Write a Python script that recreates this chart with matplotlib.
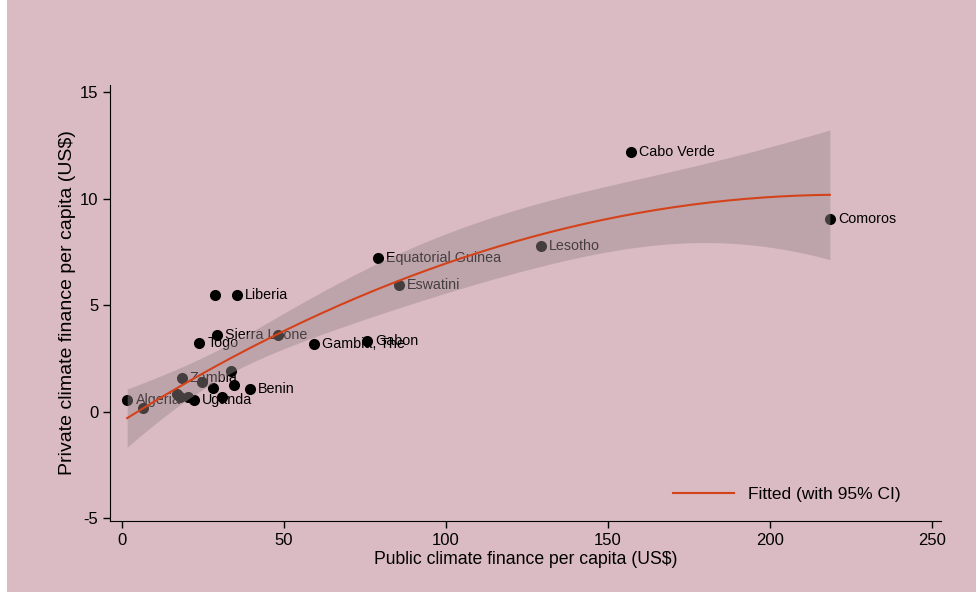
import matplotlib.pyplot as plt
import numpy as np
from matplotlib.patches import Rectangle

plt.rcParams['font.family'] = ['Liberation Sans', 'DejaVu Sans']
plt.rcParams['axes.unicode_minus'] = False

# Per-capita climate finance by country (US$); empty name = unlabelled point
countries = ["Algeria", "", "Zambia", "", "", "", "", "Benin", "", "", "",
             "Uganda", "", "", "Liberia", "Sierra Leone", "Togo", "",
             "Gambia, The", "Gabon", "Equatorial Guinea", "Eswatini",
             "Lesotho", "Cabo Verde", "Comoros"]
public_pc = [1.6, 6.4, 18.4, 24.6, 28.2, 33.6, 34.6, 39.5, 16.9, 17.9, 20.5,
             22.2, 31.0, 28.7, 35.4, 29.2, 23.8, 48.2,
             59.3, 75.6, 79.0, 85.5,
             129.3, 157.1, 218.5]
private_pc = [0.55, 0.17, 1.56, 1.38, 1.11, 1.92, 1.25, 1.07, 0.83, 0.67, 0.67,
              0.55, 0.67, 5.45, 5.45, 3.60, 3.23, 3.60,
              3.15, 3.29, 7.23, 5.96,
              7.75, 12.2, 9.06]

x_ticks = [0, 50, 100, 150, 200, 250]
y_ticks = [-5, 0, 5, 10, 15]

BG = "#dabbc3"
T_CRIT = 2.074  # t(0.975) with n - 3 = 22 degrees of freedom

x = np.array(public_pc)
y = np.array(private_pc)

# quadratic fit with 95% CI of the mean prediction
X = np.column_stack([np.ones_like(x), x, x ** 2])
beta, *_ = np.linalg.lstsq(X, y, rcond=None)
resid = y - X @ beta
s2 = resid @ resid / (len(x) - 3)
xtx_inv = np.linalg.inv(X.T @ X)
xs = np.linspace(x.min(), x.max(), 200)
Xs = np.column_stack([np.ones_like(xs), xs, xs ** 2])
fit = Xs @ beta
se = np.sqrt(s2 * np.einsum("ij,jk,ik->i", Xs, xtx_inv, Xs))
lo, hi = fit - T_CRIT * se, fit + T_CRIT * se

fig = plt.figure(figsize=(9.76, 5.92), dpi=100, facecolor="white")
fig.add_artist(Rectangle((7 / 976, 0), 1, 1, transform=fig.transFigure,
                         facecolor=BG, edgecolor="none", zorder=-10))

ax = fig.add_axes([110 / 976, 71 / 592, 831 / 976, 436 / 592])
ax.set_facecolor(BG)

ax.scatter(x, y, s=64, color="black", zorder=2, linewidths=0)
for name, px, py in zip(countries, x, y):
    if name:
        ax.annotate(name, (px, py), xytext=(6, 0), textcoords="offset points",
                    va="center", ha="left", fontsize=10.3, zorder=2)

# band sits over the points so covered markers turn grey
ax.fill_between(xs, lo, hi, color="#9b8a8e", alpha=0.45, linewidth=0, zorder=3)
ax.plot(xs, fit, color="#d4421a", linewidth=1.5, zorder=4,
        label="Fitted (with 95% CI)")

ax.set_xlim(-3.7, 252.8)
ax.set_ylim(-5.14, 15.33)
ax.set_xticks(x_ticks)
ax.set_yticks(y_ticks)
ax.tick_params(labelsize=12, length=5, width=1)
for side in ["top", "right"]:
    ax.spines[side].set_visible(False)

ax.set_xlabel("Public climate finance per capita (US$)", fontsize=12.7, labelpad=2)
ax.set_ylabel("Private climate finance per capita (US$)", fontsize=14, labelpad=3)

ax.legend(loc="lower right", frameon=False, fontsize=12.5, handlelength=3.5,
          bbox_to_anchor=(0.97, 0.008))

fig.savefig("out.png", dpi=100, facecolor=fig.get_facecolor())
